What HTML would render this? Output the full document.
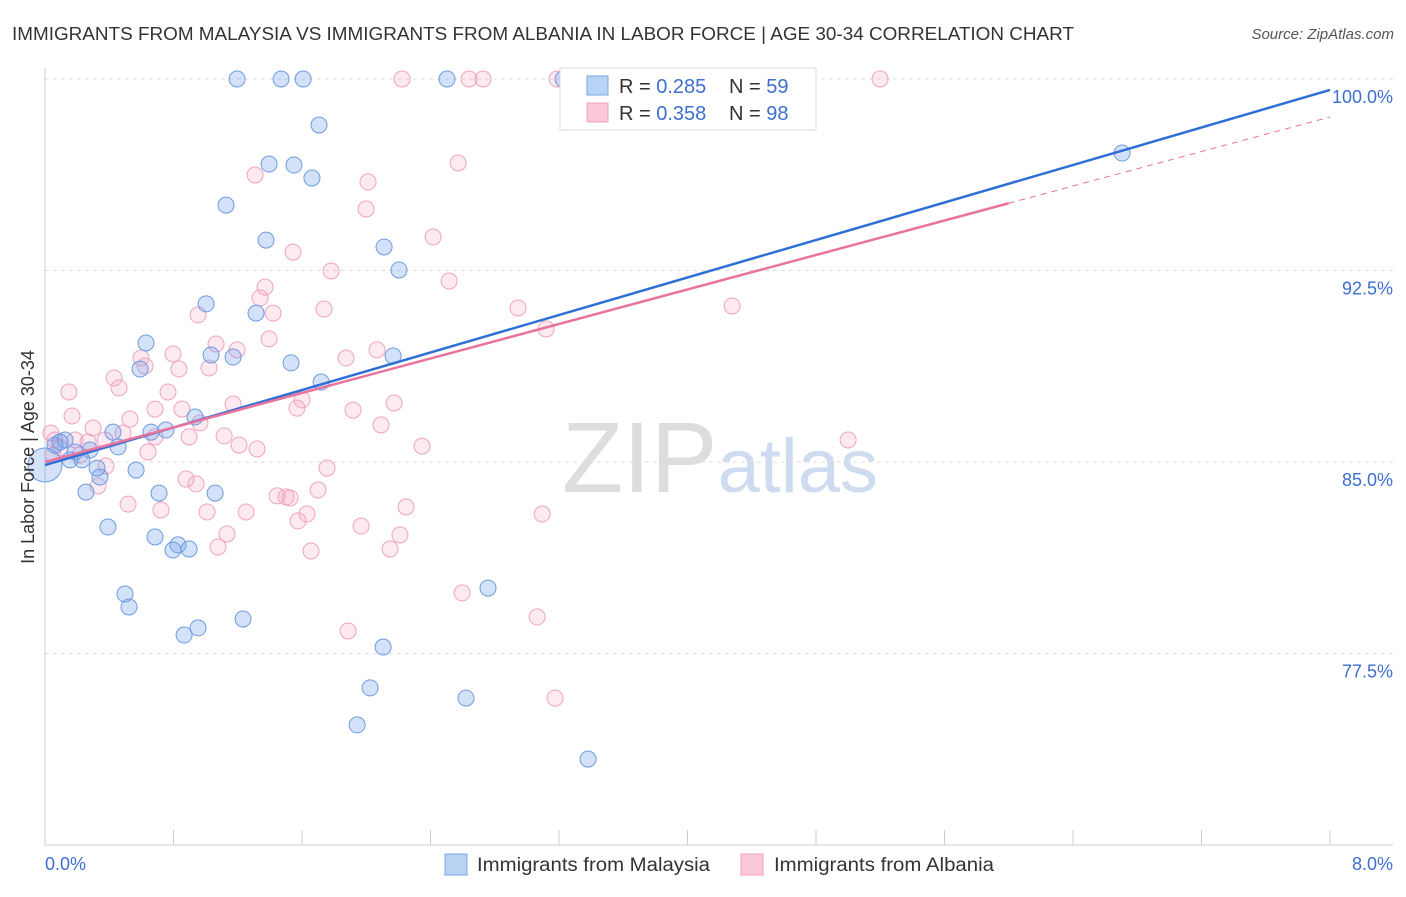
<!DOCTYPE html>
<html><head><meta charset="utf-8"><style>
body{margin:0;background:#fff;font-family:"Liberation Sans",sans-serif;}
svg text{font-family:"Liberation Sans",sans-serif;}
</style></head><body>
<svg id="chart" width="1406" height="892" xmlns="http://www.w3.org/2000/svg">
<text x="12" y="40" font-size="18" fill="#333" textLength="1062" lengthAdjust="spacingAndGlyphs">IMMIGRANTS FROM MALAYSIA VS IMMIGRANTS FROM ALBANIA IN LABOR FORCE | AGE 30-34 CORRELATION CHART</text>
<text x="1394" y="39" font-size="15" fill="#555" text-anchor="end" font-style="italic">Source: ZipAtlas.com</text>
<text x="720" y="492" font-size="100" text-anchor="middle" fill="#ddd" font-family="Liberation Serif">ZIP<tspan fill="#cfdcf0" font-family="Liberation Sans" font-size="76">atlas</tspan></text>
<g id="grid"></g><g id="axes"></g><g id="pts"></g><g id="lines"></g>
<g>
<rect x="560" y="68" width="256" height="62" fill="#fff" stroke="#ddd"/>
<rect x="587" y="76" width="21" height="19" fill="#b9d3f5" stroke="#7aa5e5"/>
<rect x="587" y="103" width="21" height="19" fill="#fbc9d8" stroke="#f0a0bc"/>
<text x="619" y="93" font-size="20" fill="#333">R = <tspan fill="#3d6fd0">0.285</tspan></text>
<text x="729" y="93" font-size="20" fill="#333">N = <tspan fill="#3d6fd0">59</tspan></text>
<text x="619" y="120" font-size="20" fill="#333">R = <tspan fill="#3d6fd0">0.358</tspan></text>
<text x="729" y="120" font-size="20" fill="#333">N = <tspan fill="#3d6fd0">98</tspan></text>
</g>
<g>
<rect x="445" y="854" width="22" height="21" fill="#b9d3f5" stroke="#7aa5e5"/>
<text x="477" y="871" font-size="19" fill="#333" textLength="233" lengthAdjust="spacingAndGlyphs">Immigrants from Malaysia</text>
<rect x="741" y="854" width="22" height="21" fill="#fbc9d8" stroke="#f0a0bc"/>
<text x="774" y="871" font-size="19" fill="#333" textLength="220" lengthAdjust="spacingAndGlyphs">Immigrants from Albania</text>
</g>
<text transform="translate(34,457) rotate(-90)" font-size="18" fill="#333" text-anchor="middle">In Labor Force | Age 30-34</text>
</svg>
<script>
const yTicks=[100,92.5,85,77.5];
const yTickLabels=["100.0%","92.5%","85.0%","77.5%"];
const xEndLabels=["0.0%","8.0%"];
const blueX=[1.196,1.470,1.607,2.503,3.225,1.706,1.395,1.550,1.662,1.127,1.376,2.111,2.204,1.003,1.314,0.629,1.034,1.171,0.592,1.532,2.167,1.719,0.934,0.753,0.660,0.423,0.125,0.280,0.455,0.187,0.156,0.230,0.324,0.567,0.342,0.255,0.710,1.059,0.392,0.685,0.828,0.797,0.897,0.498,0.523,1.233,0.953,0.866,2.758,2.105,2.024,2.621,1.943,3.381,6.706,0,0.062,0.093];
const blueY=[100,100,100,100,100,98.20,96.67,96.63,96.12,95.06,93.69,93.42,92.52,91.19,90.83,89.66,89.19,89.11,88.64,88.88,89.15,88.13,86.76,86.25,86.17,86.17,85.86,85.47,85.59,85.39,85.08,85.08,84.76,84.68,84.41,83.82,83.78,83.78,82.45,82.06,81.75,81.55,81.59,79.83,79.32,78.85,78.50,78.22,80.06,77.75,76.15,75.75,74.70,73.36,97.10,84.88,85.66,85.78];
const pinkX=[2.223,2.640,2.727,3.188,3.767,5.199,2.572,1.308,2.011,1.999,2.416,1.544,1.781,2.516,1.370,1.339,0.953,1.420,1.737,2.945,4.278,3.120,1.395,1.065,1.196,0.797,1.874,2.067,0.598,0.623,1.021,0.834,0.430,0.461,0.149,0.766,1.600,1.171,2.173,0.685,0.853,1.918,1.569,0.529,0.168,0.965,2.092,0.299,0.486,0.685,0.897,1.115,0.374,0.268,0.037,1.208,1.320,0.641,2.347,5.000,0.093,0.050,0.218,0.380,1.756,0.878,0.330,0.940,1.445,1.501,1.526,1.700,0.517,0.722,1.009,1.252,2.248,1.631,1.575,3.095,1.968,2.210,1.133,1.077,2.148,1.656,2.597,3.064,1.887,3.176,0.187,0.062];
const pinkY=[100,100,100,100,100,100,96.71,96.24,95.97,94.91,93.81,93.22,92.48,92.09,91.85,91.42,90.76,90.83,90.99,91.03,91.11,90.21,89.82,89.62,89.39,89.23,89.07,89.39,89.07,88.76,88.68,88.64,88.29,87.90,87.74,87.74,87.43,87.27,87.31,87.07,87.07,87.03,87.11,86.68,86.80,86.53,86.45,86.33,86.13,85.98,85.98,86.02,85.86,85.78,86.13,85.66,85.51,85.39,85.62,85.86,85.55,85.27,85.27,84.84,84.76,84.33,84.06,84.14,83.67,83.63,83.59,83.90,83.35,83.12,83.04,83.04,83.24,82.96,82.69,82.96,82.49,82.14,82.18,81.67,81.59,81.51,79.87,78.93,78.38,75.75,85.86,85.86];
const blueTrend=[84.88,99.57];
const pinkTrend=[85.0,98.51];
const pinkSolidEnd=6.0;
const NS="http://www.w3.org/2000/svg";
const X=v=>45+v/8*1285, Y=v=>79+(100-v)*25.53;
function mk(tag,attrs,parent){const e=document.createElementNS(NS,tag);for(const k in attrs)e.setAttribute(k,attrs[k]);document.getElementById(parent).appendChild(e);return e;}
yTicks.forEach((t,i)=>{
 const g=mk('line',{x1:45,x2:1393,y1:Y(t),y2:Y(t),stroke:'#ddd','stroke-dasharray':'4,4'},'grid');
 
 
 const tx=mk('text',{x:1393,y:Y(t)+24,'font-size':18,fill:'#3d6fd0','text-anchor':'end'},'axes');
 tx.textContent=yTickLabels[i];
 
 
});
const ax=mk('line',{x1:45,x2:45,y1:68,y2:845,stroke:'#ccc'},'axes');


const bx=mk('line',{x1:45,x2:1393,y1:845,y2:845,stroke:'#ccc'},'axes');


for(let i=0;i<=10;i++){const t=mk('line',{x1:X(i*0.8),x2:X(i*0.8),y1:830,y2:845,stroke:'#ccc'},'axes');
 
 }
[[0,'start',45],[8,'end',1393]].forEach((d,i)=>{const t=mk('text',{x:d[2],y:870,'font-size':18,fill:'#3d6fd0','text-anchor':d[1]},'axes');t.textContent=xEndLabels[i];
 
 });
function pts(xs,ys,fill,stroke,name){xs.forEach((x,i)=>{const big=(name==='blue-point'&&x===0);const c=mk('circle',{cx:X(x),cy:Y(ys[i]),r:big?17:8,fill:fill,stroke:stroke,'stroke-width':1},'pts');
 
 });}
pts(pinkX,pinkY,'rgba(244,160,190,0.22)','#f0a3bf','pink-point');
pts(blueX,blueY,'rgba(110,160,235,0.3)','#6e9be0','blue-point');
const bl=mk('line',{x1:X(0),y1:Y(blueTrend[0]),x2:X(8),y2:Y(blueTrend[1]),stroke:'#2f6fd6','stroke-width':2.5},'lines');


const pv=x=>pinkTrend[0]+(pinkTrend[1]-pinkTrend[0])*x/8;
const pl=mk('line',{x1:X(0),y1:Y(pv(0)),x2:X(pinkSolidEnd),y2:Y(pv(pinkSolidEnd)),stroke:'#e8739c','stroke-width':2.5},'lines');


const pd=mk('line',{x1:X(pinkSolidEnd),y1:Y(pv(pinkSolidEnd)),x2:X(8),y2:Y(pv(8)),stroke:'#e8739c','stroke-width':1,'stroke-dasharray':'6,5'},'lines');


</script>
</body></html>
